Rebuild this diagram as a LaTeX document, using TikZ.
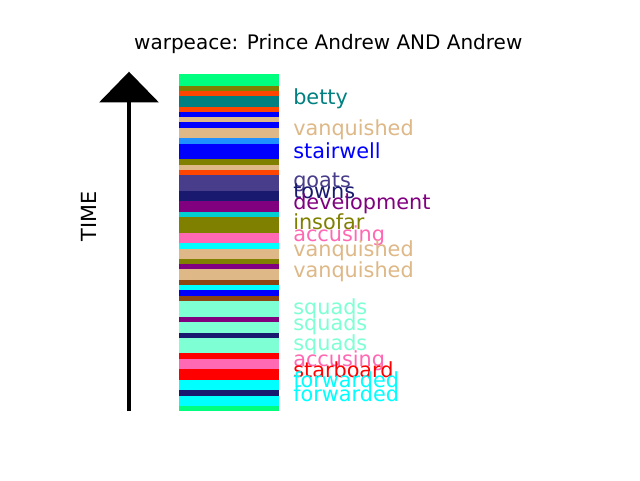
\documentclass[tikz,border=0pt]{standalone}
\usepackage{fontspec}
\setmainfont{DejaVu Sans}
\usetikzlibrary{arrows.meta}
\definecolor{cspring}{HTML}{00FF7F}
\definecolor{colive}{HTML}{808000}
\definecolor{corange}{HTML}{FF4500}
\definecolor{cteal}{HTML}{008080}
\definecolor{cblue}{HTML}{0000FF}
\definecolor{cburly}{HTML}{DEB887}
\definecolor{cdodger}{HTML}{1E90FF}
\definecolor{cdslate}{HTML}{483D8B}
\definecolor{cmidnight}{HTML}{191970}
\definecolor{cpurple}{HTML}{800080}
\definecolor{cdturq}{HTML}{00CED1}
\definecolor{chot}{HTML}{FF69B4}
\definecolor{ccyan}{HTML}{00FFFF}
\definecolor{csaddle}{HTML}{8B4513}
\definecolor{caqua}{HTML}{7FFFD4}
\definecolor{cred}{HTML}{FF0000}
\tikzset{
  lbl/.style={anchor=base west, inner sep=0pt, font=\fontsize{15.6}{18}\selectfont},
  ttl/.style={anchor=base, inner sep=0pt, font=\fontsize{15}{18}\selectfont},
  stripe/.style={draw=none}
}
\begin{document}
\begin{tikzpicture}[x=0.75pt, y=-0.75pt]
\useasboundingbox (0,0) rectangle (640,480);
\fill[white] (0,0) rectangle (640,480);
% title
\node[ttl] (title) at (328.3,49.5) {warpeace: Prince Andrew AND Andrew};
% stripes
\foreach \ya/\yb/\c in {
  74/85.7/cspring, 85.7/90.7/colive, 90.7/96/corange, 96/106.7/cteal,
  106.7/111.7/corange, 111.7/116.7/cblue, 116.7/122.3/cburly, 122.3/127.7/cblue,
  127.7/137.7/cburly, 137.7/143.7/cdodger, 143.7/159/cblue, 159/164.7/colive,
  164.7/170/cburly, 170/175/corange, 175/190.7/cdslate, 190.7/201/cmidnight,
  201/212/cpurple, 212/216.7/cdturq, 216.7/232.7/colive, 232.7/243.3/chot,
  243.3/249/ccyan, 249/258.7/cburly, 258.7/263.7/colive, 263.7/269.3/cpurple,
  269.3/279.7/cburly, 279.7/285/csaddle, 285/290.3/ccyan, 290.3/295.7/cblue,
  295.7/301/csaddle, 301/316.7/caqua, 316.7/322/cpurple, 322/332.7/caqua,
  332.7/337.7/cmidnight, 337.7/353.3/caqua, 353.3/359/cred, 359/368.7/chot,
  368.7/380/cred, 380/389.7/ccyan, 389.7/395.7/cmidnight, 395.7/405.7/ccyan,
  405.7/410.7/cspring}
  \fill[\c] (179,\ya) rectangle (279,\yb);
% arrow
\coordinate (tail) at (129,411);
\coordinate (head) at (129,71.7);
\draw[line width=3.4pt, -{Triangle[width=44pt,length=23pt]}] (tail) -- (head);
\node[inner sep=0pt, rotate=90, font=\fontsize{15.6}{18}\selectfont] (time) at (88.5,216.5) {TIME};
% labels
\node[lbl, text=cteal] (l1) at (293,104) {betty};
\node[lbl, text=cburly] (l2) at (293,135.5) {vanquished};
\node[lbl, text=cblue] (l3) at (293,158) {stairwell};
\node[lbl, text=cdslate] (l4) at (293,187.5) {goats};
\node[lbl, text=cmidnight] (l5) at (293,198.8) {towns};
\node[lbl, text=cpurple] (l6) at (293,209) {development};
\node[lbl, text=colive] (l7) at (293,229.5) {insofar};
\node[lbl, text=chot] (l8) at (293,241) {accusing};
\node[lbl, text=cburly] (l9) at (293,256.5) {vanquished};
\node[lbl, text=cburly] (l10) at (293,277) {vanquished};
\node[lbl, text=caqua] (l11) at (293,314.5) {squads};
\node[lbl, text=caqua] (l12) at (293,330) {squads};
\node[lbl, text=caqua] (l13) at (293,350.5) {squads};
\node[lbl, text=chot] (l14) at (293,366.5) {accusing};
\node[lbl, text=cred] (l15) at (293,377) {starboard};
\node[lbl, text=ccyan] (l16) at (293,387.2) {forwarded};
\node[lbl, text=ccyan] (l17) at (293,401.5) {forwarded};
\end{tikzpicture}
\end{document}
